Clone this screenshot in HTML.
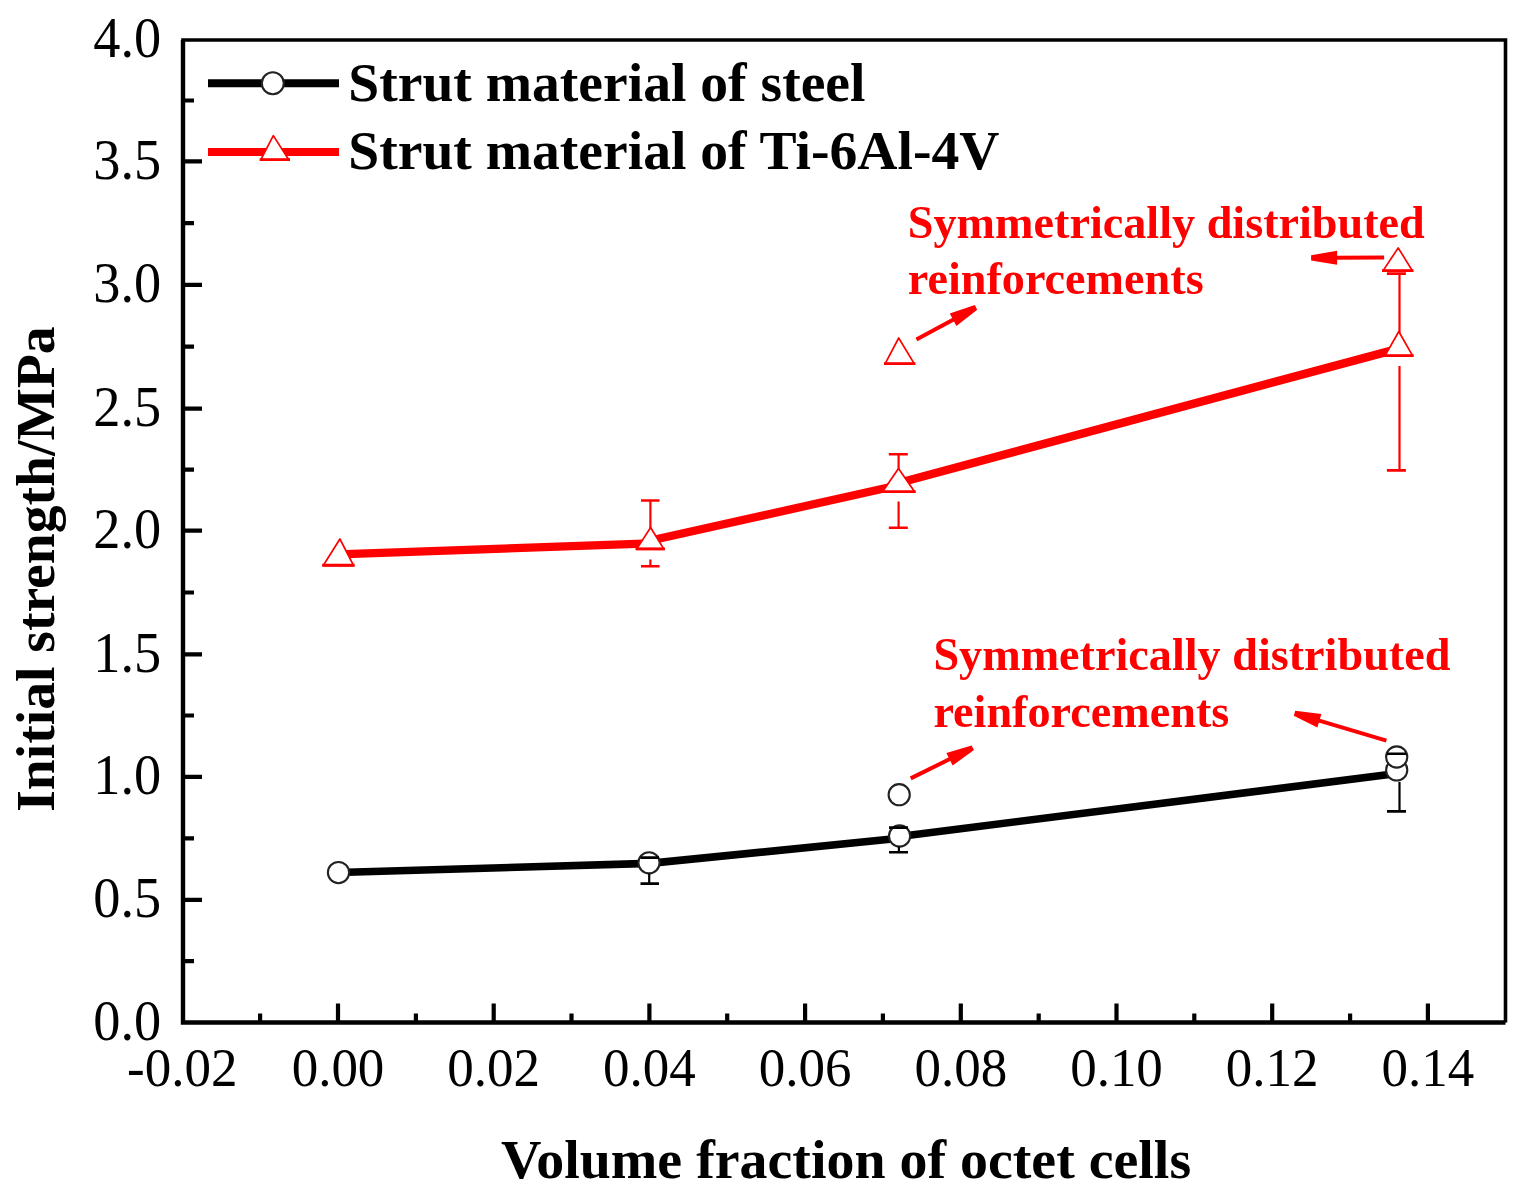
<!DOCTYPE html><html><head><meta charset="utf-8"><style>html,body{margin:0;padding:0;background:#fff;}svg{display:block}</style></head><body>
<svg width="1534" height="1196" viewBox="0 0 1534 1196">
<rect width="1534" height="1196" fill="#fff"/>
<path d="M183 961.1h11 M183 899.8h19 M183 838.3h11 M183 776.8h19 M183 715.5h11 M183 654.3h19 M183 592.5h11 M183 530.6h19 M183 469.6h11 M183 408.6h19 M183 346.7h11 M183 284.8h19 M183 223.1h11 M183 161.4h19 M183 100.5h11 M260.1 1022v-8.5 M338.0 1022v-18.5 M415.9 1022v-8.5 M493.7 1022v-18.5 M571.5 1022v-8.5 M649.4 1022v-18.5 M727.2 1022v-8.5 M805.1 1022v-18.5 M882.9 1022v-8.5 M960.8 1022v-18.5 M1038.7 1022v-8.5 M1116.5 1022v-18.5 M1194.3 1022v-8.5 M1272.2 1022v-18.5 M1350.1 1022v-8.5 M1427.9 1022v-18.5" stroke="#000" stroke-width="4.2" fill="none"/>
<path d="M183 1022.5V40H1505.5V1022.5" stroke="#000" stroke-width="3.6" fill="none"/>
<path d="M183 40V1022.5H1505.5" stroke="#000" stroke-width="4.4" fill="none"/>
<g font-family="'Liberation Serif', serif" font-size="53" fill="#000">
<text transform="translate(161.2 1021.5) scale(1.025 1.07)" y="17.2" text-anchor="end">0.0</text>
<text transform="translate(161.2 898.8) scale(1.025 1.07)" y="17.2" text-anchor="end">0.5</text>
<text transform="translate(161.2 775.8) scale(1.025 1.07)" y="17.2" text-anchor="end">1.0</text>
<text transform="translate(161.2 653.3) scale(1.025 1.07)" y="17.2" text-anchor="end">1.5</text>
<text transform="translate(161.2 529.6) scale(1.025 1.07)" y="17.2" text-anchor="end">2.0</text>
<text transform="translate(161.2 407.6) scale(1.025 1.07)" y="17.2" text-anchor="end">2.5</text>
<text transform="translate(161.2 283.8) scale(1.025 1.07)" y="17.2" text-anchor="end">3.0</text>
<text transform="translate(161.2 160.4) scale(1.025 1.07)" y="17.2" text-anchor="end">3.5</text>
<text transform="translate(161.2 38.5) scale(1.025 1.07)" y="17.2" text-anchor="end">4.0</text>
<text transform="translate(182.3 1085.5) scale(1 1.02)" text-anchor="middle">-0.02</text>
<text transform="translate(338.0 1085.5) scale(1 1.02)" text-anchor="middle">0.00</text>
<text transform="translate(493.7 1085.5) scale(1 1.02)" text-anchor="middle">0.02</text>
<text transform="translate(649.4 1085.5) scale(1 1.02)" text-anchor="middle">0.04</text>
<text transform="translate(805.1 1085.5) scale(1 1.02)" text-anchor="middle">0.06</text>
<text transform="translate(960.8 1085.5) scale(1 1.02)" text-anchor="middle">0.08</text>
<text transform="translate(1116.5 1085.5) scale(1 1.02)" text-anchor="middle">0.10</text>
<text transform="translate(1272.2 1085.5) scale(1 1.02)" text-anchor="middle">0.12</text>
<text transform="translate(1427.9 1085.5) scale(1 1.02)" text-anchor="middle">0.14</text>
</g>
<text x="501" y="1177.5" font-family="'Liberation Serif', serif" font-weight="bold" font-size="55.9" fill="#000">Volume fraction of octet cells</text>
<text transform="translate(54.3 811.8) rotate(-90)" font-family="'Liberation Serif', serif" font-weight="bold" font-size="55.6" fill="#000">Initial strength/MPa</text>
<path d="M650.4 500.5V530.0 M650.4 559.5V566.2" stroke="#ff0000" stroke-width="2.2" fill="none"/><path d="M641.0 500.5h18.5 M641.0 566.2h18.5" stroke="#ff0000" stroke-width="2.6" fill="none"/>
<path d="M898.6 454.2V470.0 M898.6 501.5V527.8" stroke="#ff0000" stroke-width="2.2" fill="none"/><path d="M888.8 454.2h19 M888.8 527.8h19" stroke="#ff0000" stroke-width="2.6" fill="none"/>
<path d="M1399.5 273.6V333.0 M1399.5 366.0V470.4" stroke="#ff0000" stroke-width="2.2" fill="none"/><path d="M1386.9 273.6h19 M1386.9 470.4h19" stroke="#ff0000" stroke-width="2.6" fill="none"/>
<path d="M338.6 554.4L650.6 543.3" stroke="#ff0000" stroke-width="8.2" stroke-linecap="round" fill="none"/>
<path d="M650.6 540.5L898.5 485.3" stroke="#ff0000" stroke-width="8.2" stroke-linecap="round" fill="none"/>
<path d="M898.5 483.0L1398.8 348.6" stroke="#ff0000" stroke-width="8.4" stroke-linecap="round" fill="none"/>
<path d="M338.5 872.5L649.5 863.4" stroke="#000" stroke-width="7.6" stroke-linecap="round" fill="none"/>
<path d="M649.5 863.4L899.5 838.2" stroke="#000" stroke-width="7.6" stroke-linecap="round" fill="none"/>
<path d="M899.5 836.5L1396.8 773.6" stroke="#000" stroke-width="7.6" stroke-linecap="round" fill="none"/>
<path d="M339.9 539.0L323.1 565.8H353.8Z" fill="#fff" stroke="#ff0000" stroke-width="1.7" stroke-linejoin="round"/><path d="M322.2 565.2H354.6" stroke="#ff0000" stroke-width="2.8"/>
<path d="M650.6 527.5L636.5 549.4H664.0Z" fill="#fff" stroke="#ff0000" stroke-width="1.7" stroke-linejoin="round"/><path d="M635.6 548.8H664.9" stroke="#ff0000" stroke-width="2.8"/>
<path d="M898.5 468.5L882.4 492.1H914.8Z" fill="#fff" stroke="#ff0000" stroke-width="1.7" stroke-linejoin="round"/><path d="M881.5 491.6H915.6" stroke="#ff0000" stroke-width="2.8"/>
<path d="M898.7 338.0L884.9 364.1H914.5Z" fill="#fff" stroke="#ff0000" stroke-width="1.7" stroke-linejoin="round"/><path d="M884.0 363.6H915.4" stroke="#ff0000" stroke-width="2.8"/>
<path d="M1398.8 331.5L1384.8 356.1H1412.8Z" fill="#fff" stroke="#ff0000" stroke-width="1.7" stroke-linejoin="round"/><path d="M1384.0 355.6H1413.6" stroke="#ff0000" stroke-width="2.8"/>
<path d="M1398.2 247.9L1382.8 271.1H1412.6Z" fill="#fff" stroke="#ff0000" stroke-width="1.7" stroke-linejoin="round"/><path d="M1382.0 270.6H1413.4" stroke="#ff0000" stroke-width="2.8"/>
<circle cx="338.5" cy="872.6" r="10.6" fill="#fff" stroke="#222" stroke-width="2.1"/>
<circle cx="649.0" cy="862.8" r="10.6" fill="#fff" stroke="#222" stroke-width="2.1"/>
<circle cx="899.6" cy="836.0" r="10.6" fill="#fff" stroke="#222" stroke-width="2.1"/>
<circle cx="899.2" cy="794.7" r="10.6" fill="#fff" stroke="#222" stroke-width="2.1"/>
<circle cx="1396.7" cy="769.9" r="10.6" fill="#fff" stroke="#222" stroke-width="2.1"/>
<circle cx="1396.7" cy="757.0" r="10.6" fill="#fff" stroke="#222" stroke-width="2.1"/>
<path d="M649.2 873.5V883.6" stroke="#000" stroke-width="2.2" fill="none"/><path d="M640.5 857.6h18.5 M640.5 883.6h18.5" stroke="#000" stroke-width="2.6" fill="none"/>
<path d="M898.9 846.5V852.2" stroke="#000" stroke-width="2.2" fill="none"/><path d="M889.0 827.6h19 M889.0 852.2h19" stroke="#000" stroke-width="2.6" fill="none"/>
<path d="M1399.5 782.0V811.4" stroke="#000" stroke-width="2.2" fill="none"/><path d="M1387.0 753.8h19 M1387.0 811.4h19" stroke="#000" stroke-width="2.6" fill="none"/>
<path d="M916.4 339.5L954.9 318.8" stroke="#ff0000" stroke-width="4.0" fill="none"/><path d="M977.2 309.7L956.4 325.9L949.8 313.6L974.8 305.1Z" fill="#ff0000"/>
<path d="M1384.1 257.6L1335.1 257.8" stroke="#ff0000" stroke-width="4.0" fill="none"/><path d="M1311.1 255.3L1337.1 250.8L1337.1 264.8L1311.1 260.5Z" fill="#ff0000"/>
<path d="M910.7 778.4L951.3 758.3" stroke="#ff0000" stroke-width="4.0" fill="none"/><path d="M974.0 750.0L952.6 765.5L946.4 752.9L971.6 745.4Z" fill="#ff0000"/>
<path d="M1386.4 740.7L1317.5 720.2" stroke="#ff0000" stroke-width="4.0" fill="none"/><path d="M1295.2 710.8L1321.4 714.0L1317.4 727.4L1293.8 715.8Z" fill="#ff0000"/>
<g font-family="'Liberation Serif', serif" font-weight="bold" font-size="46.2" fill="#ff0000">
<text x="907.8" y="237.6">Symmetrically distributed</text>
<text x="907.8" y="293.8">reinforcements</text>
<text x="933.4" y="670.2">Symmetrically distributed</text>
<text x="933.4" y="727">reinforcements</text>
</g>
<path d="M208 83.2H339" stroke="#000" stroke-width="8"/>
<circle cx="272.8" cy="83.3" r="11" fill="#fff" stroke="#222" stroke-width="2.1"/>
<path d="M208 152H339" stroke="#ff0000" stroke-width="8"/>
<path d="M273.3 135.6L260.6 160.2H289.1Z" fill="#fff" stroke="#ff0000" stroke-width="1.7" stroke-linejoin="round"/><path d="M259.7 159.6H290.0" stroke="#ff0000" stroke-width="2.8"/>
<g font-family="'Liberation Serif', serif" font-weight="bold" font-size="55.6" fill="#000">
<text x="348.3" y="100.6">Strut material of steel</text>
<text x="348.3" y="168.6">Strut material of Ti-6Al-4V</text>
</g>
</svg></body></html>
